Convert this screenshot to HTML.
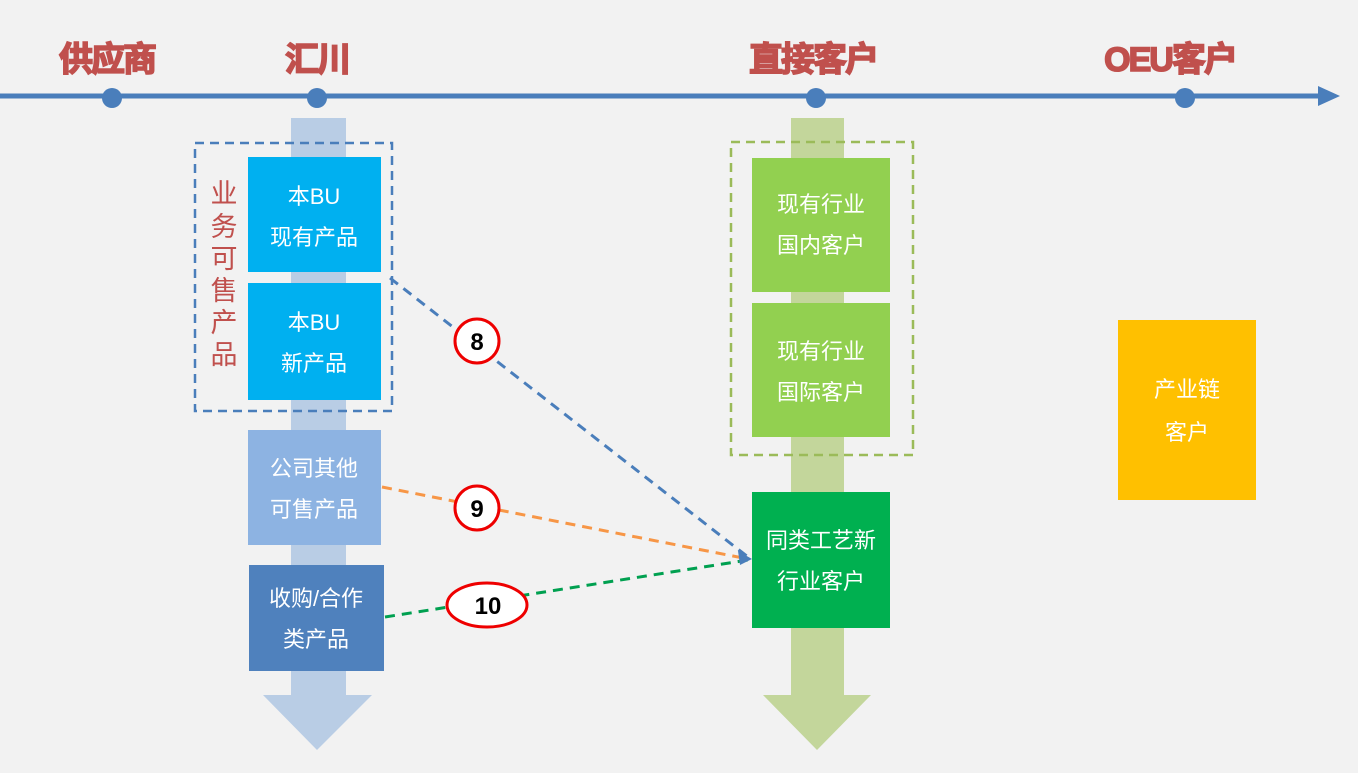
<!DOCTYPE html>
<html><head><meta charset="utf-8"><style>
body{margin:0;width:1358px;height:768px;overflow:hidden;background:#f2f2f2;font-family:"Liberation Sans","Noto Sans CJK SC",sans-serif;}
</style></head><body>
<svg width="1358" height="768" xmlns="http://www.w3.org/2000/svg" style="font-family:'Liberation Sans','Noto Sans CJK SC',sans-serif">
<rect width="1358" height="768" fill="#f2f2f2"/>
<g font-weight="bold" font-size="34" fill="#c0504d" stroke="#c0504d" stroke-width="1.6" text-anchor="middle" letter-spacing="-2">
<text x="107" y="71">供应商</text>
<text x="317" y="71">汇川</text>
<text x="813" y="71">直接客户</text>
<text x="1170" y="71">OEU客户</text>
</g>
<line x1="0" y1="96" x2="1322" y2="96" stroke="#4a7ebb" stroke-width="5"/>
<polygon points="1318,86 1340,96 1318,106" fill="#4a7ebb"/>
<g fill="#4a7ebb"><circle cx="112" cy="98" r="10"/><circle cx="317" cy="98" r="10"/><circle cx="816" cy="98" r="10"/><circle cx="1185" cy="98" r="10"/></g>
<rect x="291" y="118" width="55" height="578" fill="#b9cde5"/>
<polygon points="263,695 372,695 317,750" fill="#b9cde5"/>
<rect x="791" y="118" width="53" height="578" fill="#c3d69b"/>
<polygon points="763,695 871,695 817,750" fill="#c3d69b"/>
<rect x="195" y="143" width="197" height="268" fill="none" stroke="#4a7ebb" stroke-width="2.5" stroke-dasharray="9,6"/>
<rect x="731" y="142" width="182" height="313" fill="none" stroke="#9bbb59" stroke-width="2.5" stroke-dasharray="9,6"/>
<g fill="#fff" font-size="22" text-anchor="middle">
<rect x="248" y="157" width="133" height="115" fill="#00b0f0"/>
<text x="314" y="204">本BU</text><text x="314" y="245">现有产品</text>
<rect x="248" y="283" width="133" height="117" fill="#00b0f0"/>
<text x="314" y="330">本BU</text><text x="314" y="371">新产品</text>
<rect x="248" y="430" width="133" height="115" fill="#8db3e2"/>
<text x="314" y="476">公司其他</text><text x="314" y="517">可售产品</text>
<rect x="249" y="565" width="135" height="106" fill="#4f81bd"/>
<text x="316" y="606">收购/合作</text><text x="316" y="647">类产品</text>
<rect x="752" y="158" width="138" height="134" fill="#92d050"/>
<text x="821" y="212">现有行业</text><text x="821" y="253">国内客户</text>
<rect x="752" y="303" width="138" height="134" fill="#92d050"/>
<text x="821" y="359">现有行业</text><text x="821" y="400">国际客户</text>
<rect x="752" y="492" width="138" height="136" fill="#00b050"/>
<text x="821" y="548">同类工艺新</text><text x="821" y="589">行业客户</text>
<rect x="1118" y="320" width="138" height="180" fill="#ffc000"/>
<text x="1187" y="397">产业链</text><text x="1187" y="440">客户</text>
</g>
<g fill="#c0504d" font-size="27" text-anchor="middle">
<text x="224" y="203">业</text><text x="224" y="236">务</text><text x="224" y="268">可</text><text x="224" y="300">售</text><text x="224" y="332">产</text><text x="224" y="364">品</text>
</g>
<g stroke-width="3" stroke-dasharray="10,7" fill="none">
<line x1="390" y1="278" x2="748" y2="557" stroke="#4a7ebb"/>
<line x1="382" y1="487" x2="748" y2="559" stroke="#f79646"/>
<line x1="385" y1="617" x2="748" y2="560" stroke="#00a050"/>
</g>
<polygon points="752,559 738,551 740,565" fill="#4a7ebb"/>
<g fill="#fff" stroke="#e00" stroke-width="3">
<circle cx="477" cy="341" r="22"/><circle cx="477" cy="508" r="22"/><ellipse cx="487" cy="605" rx="40" ry="22"/>
</g>
<g font-weight="bold" font-size="24" text-anchor="middle" fill="#000">
<text x="477" y="350">8</text><text x="477" y="517">9</text><text x="488" y="614">10</text>
</g>
</svg>
</body></html>
